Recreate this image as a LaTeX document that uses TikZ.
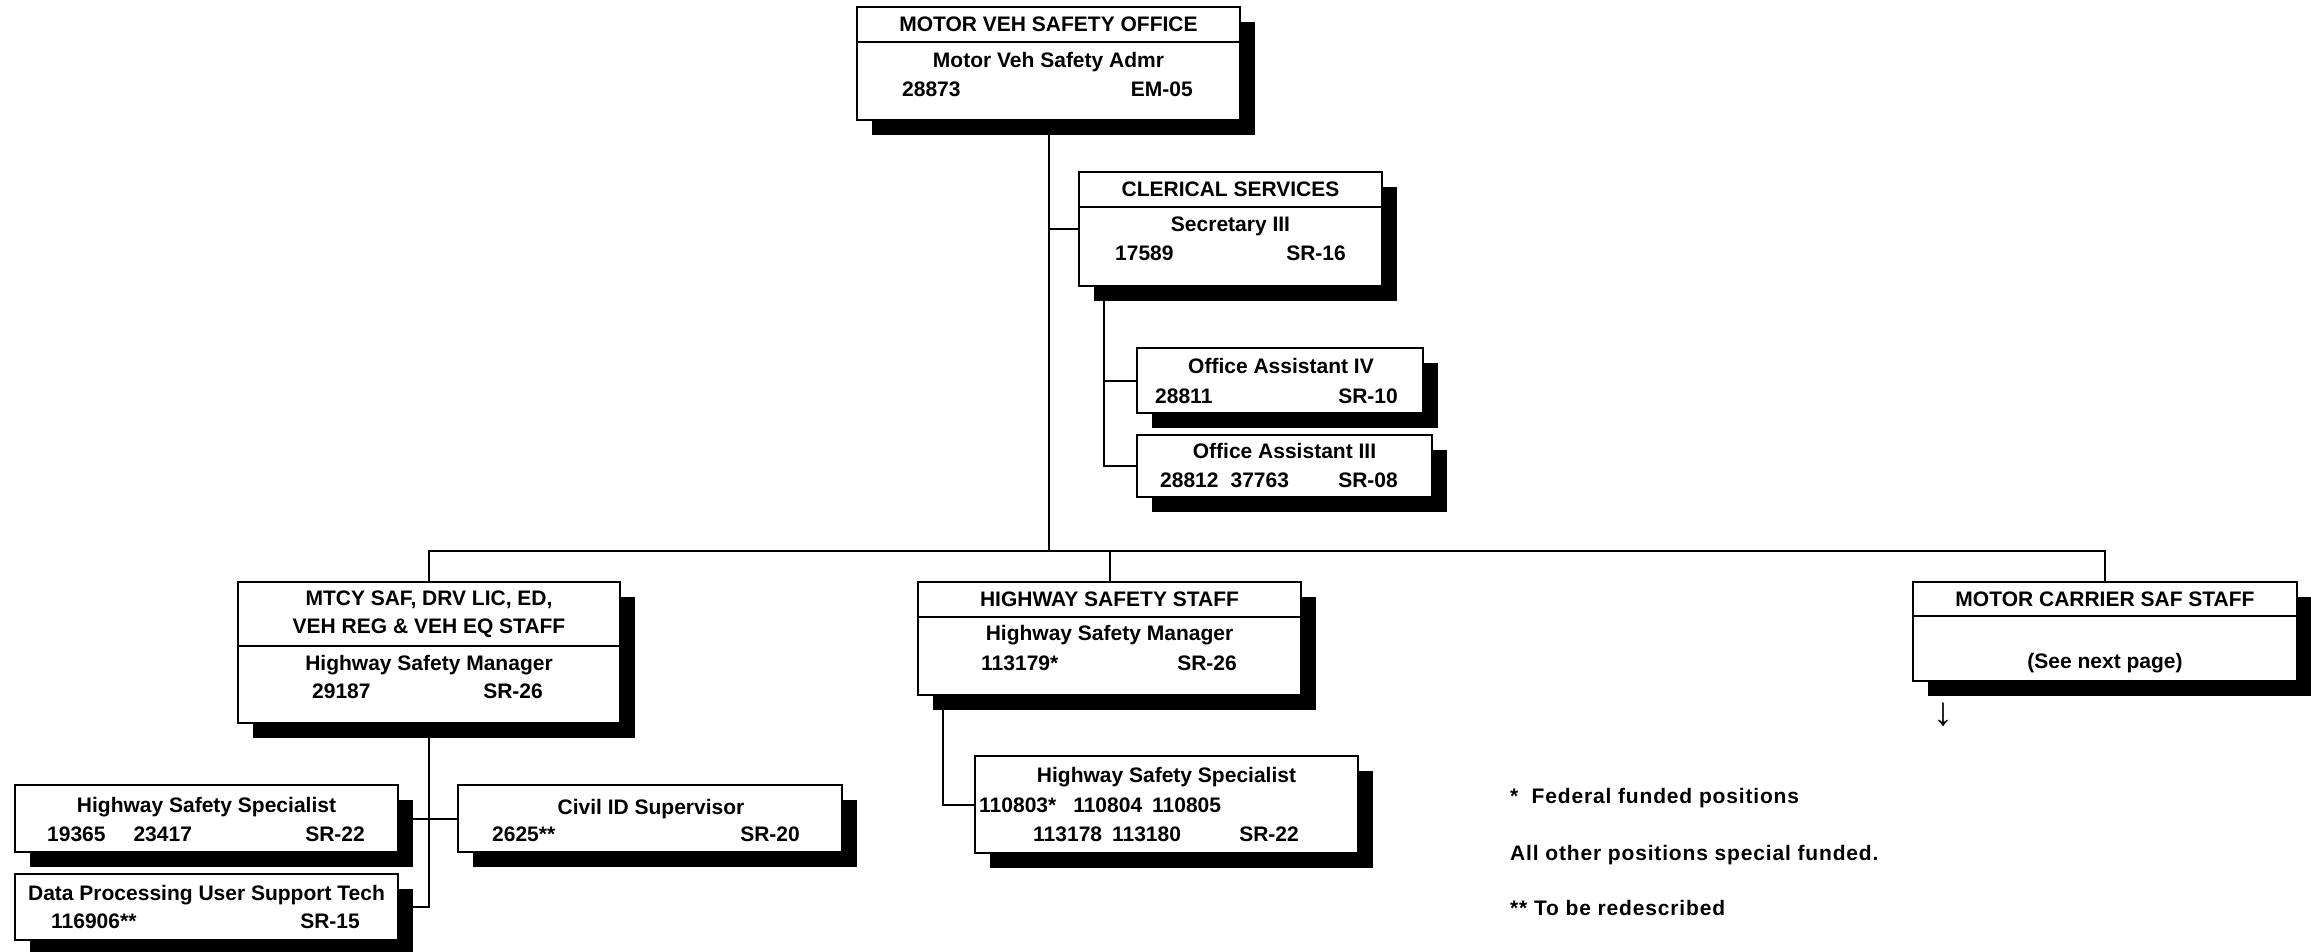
\documentclass[tikz,border=0pt]{standalone}
\usepackage{fontspec}
\setmainfont{Liberation Sans}
\newfontfamily\notefamily{Liberation Sans}[LetterSpace=4]
\newcommand{\chartfont}{\fontsize{21}{28.5}\selectfont\bfseries}
\newcommand{\notefont}{\notefamily\fontsize{21}{25}\selectfont\bfseries}
\usetikzlibrary{shadows}

\begin{document}
\begin{tikzpicture}[
        x=1pt, y=-1pt,
        font=\chartfont,
        unit/.style={rectangle, draw=black, line width=2pt, fill=white, inner sep=0pt, drop shadow={shadow xshift=15pt, shadow yshift=-15pt, fill=black, opacity=1}},
        heading/.style={rectangle, draw=black, line width=2pt, inner sep=0pt, anchor=north, align=center},
        posn/.style={anchor=base, inner sep=0pt},
        numl/.style={anchor=base west, inner sep=0pt},
        numr/.style={anchor=base east, inner sep=0pt},
        link/.style={draw=black, line width=2pt},
        note/.style={anchor=base west, inner sep=0pt, font=\notefont}
    ]
        \useasboundingbox (0,0) rectangle (2311,951);

        \node[unit, minimum width=383pt, minimum height=113pt] (mvso) at (1048.5,63.5) {};
        \node[heading, minimum width=383pt, minimum height=35pt] (mvsohead) at (mvso.north) {MOTOR VEH SAFETY OFFICE};
        \node[posn] (mvsopos) at (1048.5,67) {Motor Veh Safety Admr};
        \node[numl] (mvsonum) at (902,96) {28873};
        \node[numr] (mvsogrd) at (1193,96) {EM-05};

        \node[unit, minimum width=303pt, minimum height=114pt] (cler) at (1230.5,229) {};
        \node[heading, minimum width=303pt, minimum height=35pt] (clerhead) at (cler.north) {CLERICAL SERVICES};
        \node[posn] (clerpos) at (1230.5,231) {Secretary III};
        \node[numl] (clernum) at (1115,260) {17589};
        \node[numr] (clergrd) at (1346,260) {SR-16};

        \node[unit, minimum width=286pt, minimum height=65pt] (oa4) at (1280,380.5) {};
        \node[posn] (oa4pos) at (1281,373) {Office Assistant IV};
        \node[numl] (oa4num) at (1155,403) {28811};
        \node[numr] (oa4grd) at (1398,403) {SR-10};

        \node[unit, minimum width=295pt, minimum height=62pt] (oa3) at (1284.5,466) {};
        \node[posn] (oa3pos) at (1284.5,458) {Office Assistant III};
        \node[numl] (oa3num) at (1160,487) {28812\hspace{12pt}37763};
        \node[numr] (oa3grd) at (1398,487) {SR-08};

        \node[unit, minimum width=382pt, minimum height=141pt] (mtcy) at (429,652.5) {};
        \node[heading, minimum width=382pt, minimum height=64pt] (mtcyhead) at (mtcy.north) {MTCY SAF, DRV LIC, ED,\\VEH REG \& VEH EQ STAFF};
        \node[posn] (mtcypos) at (429,670) {Highway Safety Manager};
        \node[numl] (mtcynum) at (312,698) {29187};
        \node[numr] (mtcygrd) at (543,698) {SR-26};

        \node[unit, minimum width=383pt, minimum height=113pt] (hss) at (1109.5,638.5) {};
        \node[heading, minimum width=383pt, minimum height=35pt] (hsshead) at (hss.north) {HIGHWAY SAFETY STAFF};
        \node[posn] (hsspos) at (1109.5,640) {Highway Safety Manager};
        \node[numl] (hssnum) at (981,670) {113179*};
        \node[numr] (hssgrd) at (1237,670) {SR-26};

        \node[unit, minimum width=384pt, minimum height=99pt] (mcs) at (2105,631.5) {};
        \node[heading, minimum width=384pt, minimum height=34pt] (mcshead) at (mcs.north) {MOTOR CARRIER SAF STAFF};
        \node[posn] (mcspos) at (2105,668) {(See next page)};
        \node[font=\fontsize{40}{40}\selectfont, inner sep=0pt] (more) at (1943,715) {↓};

        \node[unit, minimum width=383pt, minimum height=97pt] (hsr) at (1166.5,804.5) {};
        \node[posn] (hsrpos) at (1166.5,782) {Highway Safety Specialist};
        \node[numl] (hsrnum) at (979,812) {110803*\hspace{17pt}110804\hspace{10pt}110805};
        \node[numl] (hsrnumb) at (1033,841) {113178\hspace{10pt}113180};
        \node[numr] (hsrgrd) at (1299,841) {SR-22};

        \node[unit, minimum width=383pt, minimum height=67pt] (hsl) at (206.5,818.5) {};
        \node[posn] (hslpos) at (206.5,812) {Highway Safety Specialist};
        \node[numl] (hslnum) at (47,841) {19365\hspace{28pt}23417};
        \node[numr] (hslgrd) at (365,841) {SR-22};

        \node[unit, minimum width=383pt, minimum height=66pt] (dp) at (206.5,907) {};
        \node[posn] (dppos) at (206.5,900) {Data Processing User Support Tech};
        \node[numl] (dpnum) at (51,928) {116906**};
        \node[numr] (dpgrd) at (360,928) {SR-15};

        \node[unit, minimum width=384pt, minimum height=67pt] (civ) at (650,818.5) {};
        \node[posn] (civpos) at (651,814) {Civil ID Supervisor};
        \node[numl] (civnum) at (492,841) {2625**};
        \node[numr] (civgrd) at (800,841) {SR-20};

        \node[note] (fed) at (1510,803) {*~~Federal funded positions};
        \node[note] (spec) at (1510,860) {All other positions special funded.};
        \node[note] (redesc) at (1510,915) {**~To be redescribed};

        \coordinate (bus) at (1048.5,551);
        \coordinate (clerdrop) at ([xshift=26pt]cler.south west);

        \draw[link] (mvso.south) -- (bus);
        \draw[link] (mvso.south |- cler.west) -- (cler.west);
        \draw[link] (clerdrop) |- (oa3.west);
        \draw[link] (clerdrop |- oa4.west) -- (oa4.west);
        \draw[link] (mtcy.north) |- (bus) -| (mcs.north);
        \draw[link] (hss.north) -- (hss.north |- bus);
        \draw[link] ([xshift=26pt]hss.south west) |- (hsr.west);
        \draw[link] (mtcy.south) |- (dp.east);
        \draw[link] (hsl.east) -- (civ.west);
    \end{tikzpicture}
\end{document}
